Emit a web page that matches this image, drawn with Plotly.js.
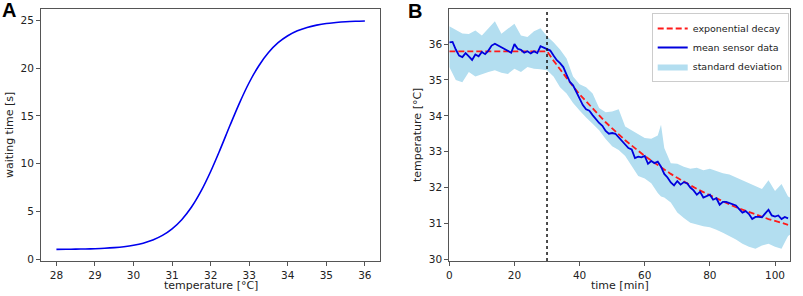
<!DOCTYPE html>
<html>
<head>
<meta charset="utf-8">
<script src="https://cdn.plot.ly/plotly-3.0.1.min.js"></script>
<style>html,body{margin:0;padding:0;background:#fff;}#chart{width:803px;height:296px;}</style>
</head>
<body>
<div id="chart"></div>
<script>
// ---------- Panel A data ----------
const tempA = [28,28.25,28.5,28.75,29,29.25,29.5,29.75,30,30.25,30.5,30.75,31,31.25,31.5,31.75,32,32.25,32.5,32.75,33,33.25,33.5,33.75,34,34.25,34.5,34.75,35,35.25,35.5,35.75,36];
const waitA = [1.02,1.03,1.04,1.06,1.09,1.13,1.20,1.30,1.45,1.67,2.00,2.48,3.17,4.13,5.43,7.12,9.18,11.52,13.99,16.37,18.50,20.26,21.64,22.67,23.40,23.92,24.27,24.51,24.68,24.78,24.86,24.91,24.94];
const tickA_x = [28,29,30,31,32,33,34,35,36];
const tickA_y = [0,5,10,15,20,25];

// ---------- Panel B data ----------
const timeMean = [0,1,2,3,4,5,6,7,8,9,10,11,12,13,14,15,16,17,18,19,20,21,22,23,24,25,26,27,28,29,30,31,32,33,34,35,36,37,38,39,40,41,42,43,44,45,46,47,48,49,50,51,52,53,54,55,56,57,58,59,60,61,62,63,64,65,66,67,68,69,70,71,72,73,74,75,76,77,78,79,80,81,82,83,84,85,86,87,88,89,90,91,92,93,94,95,96,97,98,99,100,101,102,103,104];
const meanSensor = [36.05,36.06,35.85,35.68,35.64,35.75,35.66,35.56,35.71,35.66,35.78,35.72,35.82,35.96,36.01,35.96,35.90,35.86,35.80,35.76,36.00,35.87,35.84,35.76,35.80,35.74,35.80,35.75,35.94,35.90,35.86,35.82,35.68,35.55,35.47,35.36,35.15,34.95,34.85,34.65,34.50,34.30,34.18,34.14,34.02,33.90,33.80,33.72,33.58,33.50,33.52,33.50,33.40,33.30,33.22,33.10,33.06,32.82,32.86,32.84,32.88,32.66,32.74,32.68,32.72,32.58,32.38,32.28,32.14,32.06,32.18,32.08,32.15,32.12,32.00,31.92,31.80,31.88,31.72,31.75,31.80,31.66,31.70,31.52,31.60,31.60,31.56,31.54,31.50,31.40,31.30,31.34,31.26,31.12,31.18,31.18,31.17,31.28,31.38,31.22,31.19,31.22,31.12,31.18,31.14];

const timeBand = [0,2,4,6,8,10,12,14,16,18,20,22,24,26,28,30,32,34,36,38,40,42,44,46,48,50,52,54,56,58,60,62,64,65,66,68,70,72,74,76,78,80,82,84,86,88,90,92,94,96,98,100,102,104,105];
const bandUpper = [36.50,36.40,36.30,36.28,36.38,36.24,36.43,36.64,36.29,36.43,36.57,36.24,36.20,36.36,36.44,36.22,36.05,35.85,35.60,35.10,34.88,34.80,34.62,34.22,34.10,34.12,34.18,33.70,33.60,33.50,33.38,33.36,33.45,33.75,33.10,32.68,32.66,32.58,32.52,32.55,32.48,32.52,32.45,32.40,32.36,32.28,32.20,32.10,32.02,31.96,32.20,31.90,32.10,31.75,31.70];
const bandLower = [35.36,35.00,34.94,35.22,35.10,35.15,35.22,35.27,35.20,35.17,35.31,35.22,35.36,35.31,35.30,35.27,35.10,34.80,34.62,34.36,34.15,33.95,33.78,33.60,33.35,33.15,33.05,32.88,32.62,32.32,32.25,32.12,31.85,31.75,31.72,31.58,31.30,31.15,31.02,30.98,30.92,30.89,30.82,30.74,30.65,30.55,30.43,30.35,30.29,30.38,30.43,30.35,30.29,30.65,30.70];

const timeDecay = [0,30,32,34,36,38,40,42,44,46,48,50,52,54,56,58,60,62,64,66,68,70,72,74,76,78,80,82,84,86,88,90,92,94,96,98,100,102,104];
const expDecay = [35.80,35.80,35.54,35.29,35.05,34.82,34.60,34.40,34.20,34.00,33.82,33.65,33.48,33.32,33.17,33.02,32.88,32.75,32.62,32.50,32.38,32.27,32.16,32.06,31.96,31.87,31.78,31.69,31.61,31.53,31.45,31.38,31.31,31.25,31.18,31.12,31.07,31.01,30.96];
const cutoffTime = 30;
const tickB_x = [0,20,40,60,80,100];
const tickB_y = [30,31,32,33,34,35,36];

// ---------- build ----------
const bandX = timeBand.concat(timeBand.slice().reverse());
const bandY = bandUpper.concat(bandLower.slice().reverse());

const FONT = 'DejaVu Sans, sans-serif';
const frame = '#555555';

const traces = [
  {x: tempA, y: waitA, xaxis: 'x', yaxis: 'y', mode: 'lines', line: {color: '#0000ee', width: 1.6, shape: 'spline'}, showlegend: false, hoverinfo: 'skip'},
  {x: bandX, y: bandY, xaxis: 'x2', yaxis: 'y2', mode: 'lines', fill: 'toself', fillcolor: '#b3def0', line: {width: 0, color: '#b3def0'}, name: 'standard deviation', legendrank: 3, hoverinfo: 'skip'},
  {x: timeDecay, y: expDecay, xaxis: 'x2', yaxis: 'y2', mode: 'lines', line: {color: '#ff1a1a', width: 1.8, dash: '6px,3px'}, name: 'exponential decay', legendrank: 1},
  {x: timeMean, y: meanSensor, xaxis: 'x2', yaxis: 'y2', mode: 'lines', line: {color: '#0000dd', width: 1.8}, name: 'mean sensor data', legendrank: 2}
];

const axBase = {
  showgrid: false, zeroline: false, showline: true, mirror: true,
  linecolor: frame, linewidth: 1, ticks: 'outside', ticklen: 4, tickwidth: 1, tickcolor: frame,
  tickfont: {family: FONT, size: 10.5, color: '#222'}, tickmode: 'array', fixedrange: true
};

const yDom = [35/296, 287/296];

const layout = {
  width: 803, height: 296,
  margin: {l: 0, r: 0, t: 0, b: 0, autoexpand: false},
  paper_bgcolor: '#ffffff', plot_bgcolor: '#ffffff',
  font: {family: FONT, color: '#222'},
  xaxis: Object.assign({}, axBase, {domain: [41/803, 380.3/803], range: [27.6, 36.4], tickvals: tickA_x, anchor: 'y'}),
  yaxis: Object.assign({}, axBase, {domain: yDom, range: [-0.2, 26.2], tickvals: tickA_y, anchor: 'x'}),
  xaxis2: Object.assign({}, axBase, {domain: [449.3/803, 790/803], range: [0, 104.6], tickvals: tickB_x, anchor: 'y2'}),
  yaxis2: Object.assign({}, axBase, {domain: yDom, range: [29.95, 36.98], tickvals: tickB_y, anchor: 'x2'}),
  showlegend: true,
  legend: {
    xref: 'container', yref: 'container',
    x: 651.7/803, y: 1 - 13/296, xanchor: 'left', yanchor: 'top',
    bgcolor: 'rgba(255,255,255,0.9)', bordercolor: '#cccccc', borderwidth: 1,
    font: {family: FONT, size: 9.5, color: '#222'}, tracegroupgap: 0, itemwidth: 30
  },
  shapes: [
    {type: 'line', xref: 'x2', yref: 'y2 domain', x0: cutoffTime, x1: cutoffTime, y0: 0, y1: 1, line: {color: '#111', width: 1.5, dash: 'dot'}}
  ],
  annotations: [
    {text: '<b>A</b>', xref: 'paper', yref: 'paper', x: 9/803, y: (296-10)/296, xanchor: 'center', yanchor: 'middle', showarrow: false, font: {family: 'Liberation Sans, Arial, sans-serif', size: 20, color: '#000'}},
    {text: '<b>B</b>', xref: 'paper', yref: 'paper', x: 415.5/803, y: (296-10.5)/296, xanchor: 'center', yanchor: 'middle', showarrow: false, font: {family: 'Liberation Sans, Arial, sans-serif', size: 20, color: '#000'}},
    {text: 'temperature [°C]', xref: 'paper', yref: 'paper', x: 210.6/803, y: (296-285)/296, xanchor: 'center', yanchor: 'middle', showarrow: false, font: {family: FONT, size: 11, color: '#222'}},
    {text: 'waiting time [s]', xref: 'paper', yref: 'paper', x: 10/803, y: (296-135)/296, xanchor: 'center', yanchor: 'middle', textangle: -90, showarrow: false, font: {family: FONT, size: 11, color: '#222'}},
    {text: 'time [min]', xref: 'paper', yref: 'paper', x: 619.7/803, y: (296-285)/296, xanchor: 'center', yanchor: 'middle', showarrow: false, font: {family: FONT, size: 11, color: '#222'}},
    {text: 'temperature [°C]', xref: 'paper', yref: 'paper', x: 418/803, y: (296-135)/296, xanchor: 'center', yanchor: 'middle', textangle: -90, showarrow: false, font: {family: FONT, size: 11, color: '#222'}}
  ]
};

Plotly.newPlot('chart', traces, layout, {staticPlot: true, displayModeBar: false});
</script>
</body>
</html>
